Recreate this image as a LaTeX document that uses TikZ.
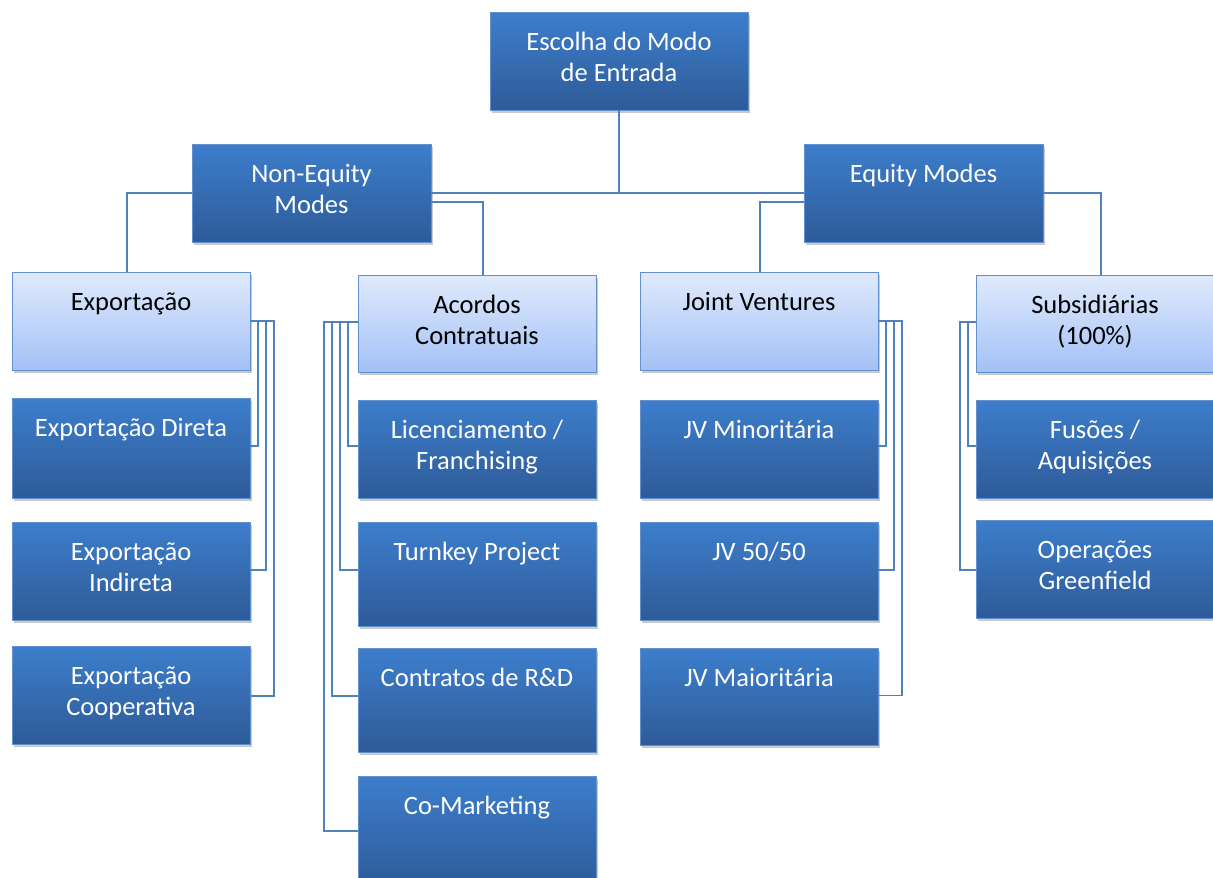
\documentclass[tikz,border=0pt]{standalone}
\usepackage{fontspec}
\setmainfont{Carlito}
\usetikzlibrary{shadows,calc}
\definecolor{dtop}{HTML}{3D7ECC}
\definecolor{dbot}{HTML}{2E5B98}
\definecolor{ltop}{HTML}{E0EAFC}
\definecolor{lbot}{HTML}{A3C1F6}
\definecolor{bord}{HTML}{6390CF}
\definecolor{conn}{HTML}{4F81BD}
\newcommand{\mybx}[3]{\parbox[c][#2pt][t]{#1pt}{\centering\fontsize{26.5}{31.5}\selectfont\rule{0pt}{38pt}#3}}
\tikzset{
  basebox/.style={rectangle, inner sep=0pt, outer sep=0pt, anchor=north west, draw=bord, line width=1pt,
    drop shadow={shadow xshift=2pt, shadow yshift=-3pt, opacity=0.35, fill=black!60}},
  darkbox/.style={basebox, top color=dtop, bottom color=dbot, text=white},
  lightbox/.style={basebox, top color=ltop, bottom color=lbot, text=black},
  conline/.style={draw=conn, line width=1.6pt}
}
\begin{document}
\begin{tikzpicture}[x=1pt,y=-1pt]
\useasboundingbox (0,0) rectangle (1213,878);
% level 0
\node[darkbox] (top) at (490,12) {\mybx{258}{98}{Escolha do Modo\\de Entrada}};
% level 1
\node[darkbox] (ne) at (192,144) {\mybx{239}{98}{Non-Equity\\Modes}};
\node[darkbox] (eq) at (804,144) {\mybx{239}{98}{Equity Modes}};
% level 2
\node[lightbox] (exp) at (12,272) {\mybx{238}{98}{Exportação}};
\node[lightbox] (aco) at (358,275) {\mybx{238}{97}{Acordos\\Contratuais}};
\node[lightbox] (jv) at (640,272) {\mybx{238}{98}{Joint Ventures}};
\node[lightbox] (sub) at (976,275) {\mybx{238}{97}{Subsidiárias\\(100\%)}};
% exportacao children
\node[darkbox] (ed) at (12,398) {\mybx{238}{100}{Exportação Direta}};
\node[darkbox] (ei) at (12,522) {\mybx{238}{98}{Exportação\\Indireta}};
\node[darkbox] (ec) at (12,646) {\mybx{238}{98}{Exportação\\Cooperativa}};
% acordos children
\node[darkbox] (lic) at (358,400) {\mybx{238}{98}{Licenciamento /\\Franchising}};
\node[darkbox] (tk) at (358,522) {\mybx{238}{104}{Turnkey Project}};
\node[darkbox] (rd) at (358,648) {\mybx{238}{104}{Contratos de R\&D}};
\node[darkbox] (cm) at (358,776) {\mybx{238}{110}{Co-Marketing}};
% jv children
\node[darkbox] (jmin) at (640,400) {\mybx{238}{98}{JV Minoritária}};
\node[darkbox] (j50) at (640,522) {\mybx{238}{98}{JV 50/50}};
\node[darkbox] (jmaj) at (640,648) {\mybx{238}{97}{JV Maioritária}};
% subsidiarias children
\node[darkbox] (fa) at (976,400) {\mybx{238}{98}{Fusões /\\Aquisições}};
\node[darkbox] (og) at (976,520) {\mybx{238}{98}{Operações\\Greenfield}};
% connectors level 0-1
\draw[conline] (top.south) -- (top.south |- ne.east);
\draw[conline] (ne.east) -- (eq.west);
\draw[conline] (ne.west) -| ($(exp.north)+(-4,0)$);
\draw[conline] ($(ne.east)+(0,9)$) -| ($(aco.north)+(6,0)$);
\draw[conline] ($(eq.west)+(0,9)$) -| ($(jv.north)+(1,0)$);
\draw[conline] (eq.east) -| ($(sub.north)+(6,0)$);
% exportacao bundle
\draw[conline] (exp.east) -| ($(ed.east)+(8,-2)$) -- ($(ed.east)+(0,-2)$);
\draw[conline] (exp.east) -| ($(ei.east)+(16,-1)$) -- ($(ei.east)+(0,-1)$);
\draw[conline] (exp.east) -| ($(ec.east)+(24,1)$) -- ($(ec.east)+(0,1)$);
% acordos bundle
\draw[conline] ($(aco.west)+(0,-1.5)$) -| ($(lic.west)+(-10,-3)$) -- ($(lic.west)+(0,-3)$);
\draw[conline] ($(aco.west)+(0,-1.5)$) -| ($(tk.west)+(-18,-4)$) -- ($(tk.west)+(0,-4)$);
\draw[conline] ($(aco.west)+(0,-1.5)$) -| ($(rd.west)+(-26,-4)$) -- ($(rd.west)+(0,-4)$);
\draw[conline] ($(aco.west)+(0,-1.5)$) -| ($(cm.west)+(-34,0)$) -- (cm.west);
% jv bundle
\draw[conline] (jv.east) -| ($(jmin.east)+(8,-3)$) -- ($(jmin.east)+(0,-3)$);
\draw[conline] (jv.east) -| ($(j50.east)+(16,-1)$) -- ($(j50.east)+(0,-1)$);
\draw[conline] (jv.east) -| ($(jmaj.east)+(24,-1)$) -- ($(jmaj.east)+(0,-1)$);
% subsidiarias bundle
\draw[conline] ($(sub.west)+(0,-1.5)$) -| ($(fa.west)+(-8,-3)$) -- ($(fa.west)+(0,-3)$);
\draw[conline] ($(sub.west)+(0,-1.5)$) -| ($(og.west)+(-16,1)$) -- ($(og.west)+(0,1)$);
\end{tikzpicture}
\end{document}
